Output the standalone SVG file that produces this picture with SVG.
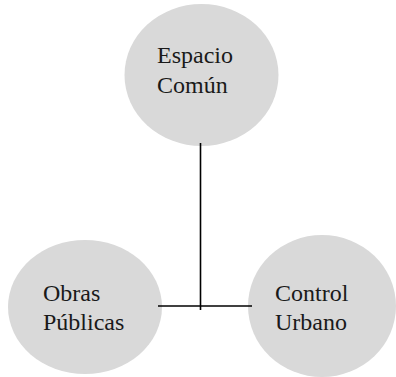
<svg xmlns="http://www.w3.org/2000/svg" width="396" height="377" viewBox="0 0 396 377">
<style>
.node{fill:#d9d9d9;stroke:none}
.conn{stroke:#000;stroke-width:1.6;fill:none}
</style>
<rect width="396" height="377" fill="#fff"/>
<g id="espacio">
<ellipse class="node" cx="201.5" cy="75" rx="77" ry="71"/>
<text x="157" y="63" font-size="24" font-family="'Liberation Serif'" fill="#1a1a1a">Espacio</text>
<text x="157" y="93" font-size="24" font-family="'Liberation Serif'" fill="#1a1a1a">Común</text>
</g>
<g id="obras">
<ellipse class="node" cx="85" cy="307" rx="77" ry="67"/>
<text x="43" y="301" font-size="24" font-family="'Liberation Serif'" fill="#1a1a1a">Obras</text>
<text x="43" y="330" font-size="24" font-family="'Liberation Serif'" fill="#1a1a1a">Públicas</text>
</g>
<g id="control">
<ellipse class="node" cx="322" cy="306" rx="74" ry="71"/>
<text x="275" y="301" font-size="24" font-family="'Liberation Serif'" fill="#1a1a1a">Control</text>
<text x="275" y="330" font-size="24" font-family="'Liberation Serif'" fill="#1a1a1a">Urbano</text>
</g>
<g id="connectors">
<line class="conn" x1="200.5" y1="143" x2="200.5" y2="310"/>
<line class="conn" x1="158" y1="306" x2="252" y2="306"/>
</g>
</svg>
